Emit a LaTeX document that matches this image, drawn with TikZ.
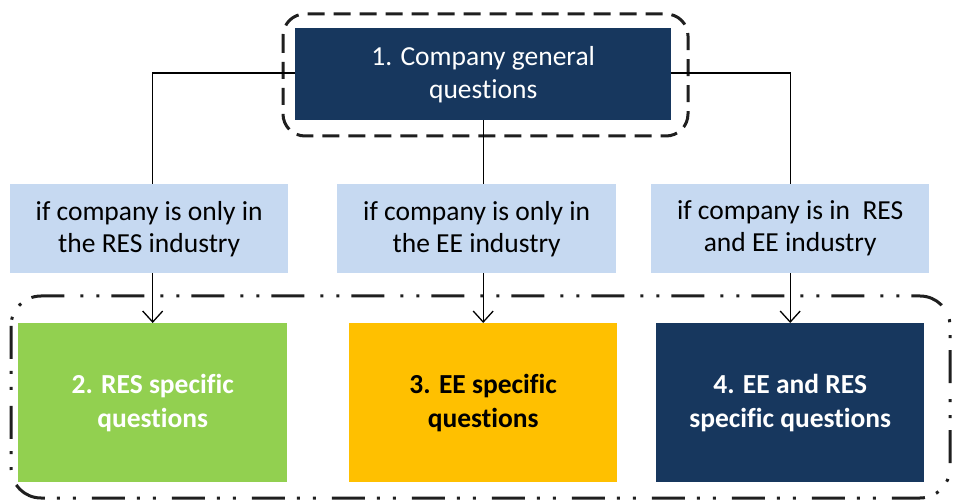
\documentclass[tikz,border=0pt]{standalone}
\usepackage{fontspec}
\setmainfont{Carlito}[Ligatures=NoCommon]
\usetikzlibrary{arrows.meta}
\definecolor{navy}{HTML}{17375E}
\definecolor{paleblue}{HTML}{C6D9F1}
\definecolor{leaf}{HTML}{92D050}
\definecolor{amber}{HTML}{FFC000}
\begin{document}
\begin{tikzpicture}[x=1pt,y=-1pt,
  box/.style={rectangle,inner sep=0pt,align=center,anchor=north west},
  topbox/.style={box,fill=navy,text=white,font=\fontsize{27.5}{33}\selectfont},
  condbox/.style={box,fill=paleblue,text=black,font=\fontsize{27.5}{32}\selectfont},
  qbox/.style={box,text=white,font=\fontsize{27.5}{34}\selectfont\bfseries},
  link/.style={draw=black,line width=1.3pt},
  arrowlink/.style={link,-{Straight Barb[length=11pt,width=20pt,line width=1.3pt]}},
  frame/.style={draw=black!88,line width=3pt}]
\useasboundingbox (0,0) rectangle (956,502);
\fill[white] (0,0) rectangle (956,502);

% top question block
\node[topbox,minimum width=376pt,minimum height=92pt] (top) at (295,28)
  {1. Company general\\questions};

% condition boxes
\node[condbox,minimum width=278pt,minimum height=89pt] (c1) at (10,184)
  {if company is only in\\the RES industry};
\node[condbox,minimum width=279pt,minimum height=89pt] (c2) at (337,184)
  {if company is only in\\the EE industry};
\node[condbox,minimum width=278pt,minimum height=89pt] (c3) at (651,184)
  {if company is in~ RES\\and EE industry};

% specific question blocks
\node[qbox,fill=leaf,minimum width=269pt,minimum height=159pt] (q1) at (18,323)
  {2. RES specific\\questions};
\node[qbox,fill=amber,text=black,minimum width=268pt,minimum height=159pt] (q2) at (349,323)
  {3. EE specific\\questions};
\node[qbox,fill=navy,minimum width=268pt,minimum height=159pt] (q3) at (656,323)
  {4. EE and RES\\specific questions};

% group frames
\draw[frame,dash pattern=on 17pt off 9pt,rounded corners=22pt]
  (283,14) rectangle (688,136);
\draw[frame,dash pattern=on 33pt off 12pt on 3pt off 13pt on 3pt off 16pt,rounded corners=30pt]
  (11,296) rectangle (950,498);

% connectors
\draw[link] (top.west |- 0,73) -| (q1.north |- c1.north);
\draw[link] (top.east |- 0,73) -| (q3.north |- c3.north);
\draw[link] (top.south -| q2.north) -- (q2.north |- c2.north);
\draw[arrowlink] (q1.north |- c1.south) -- (q1.north);
\draw[arrowlink] (q2.north |- c2.south) -- (q2.north);
\draw[arrowlink] (q3.north |- c3.south) -- (q3.north);
\end{tikzpicture}
\end{document}
